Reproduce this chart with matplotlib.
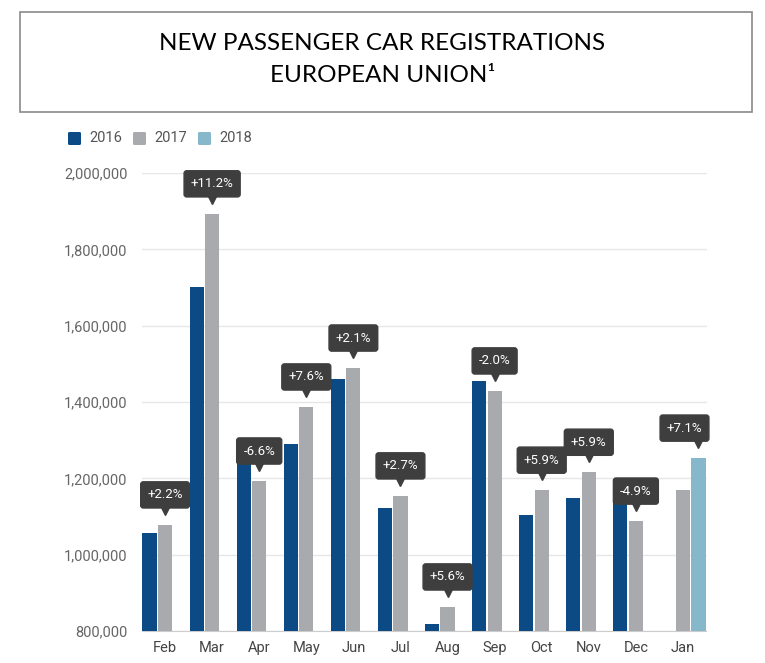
import matplotlib.pyplot as plt
import matplotlib.patches as patches
import matplotlib.transforms as mtransforms
import numpy as np

months = ["Feb", "Mar", "Apr", "May", "Jun", "Jul", "Aug", "Sep", "Oct", "Nov", "Dec", "Jan"]
reg_2016 = [1057000, 1701000, 1277000, 1290000, 1460000, 1122000, 818000, 1455000, 1104000, 1148000, 1138000, None]
reg_2017 = [1078000, 1893000, 1193000, 1387000, 1489000, 1154000, 863000, 1429000, 1169000, 1216000, 1088000, 1169000]
reg_2018 = [None, None, None, None, None, None, None, None, None, None, None, 1253000]
changes = ["+2.2%", "+11.2%", "-6.6%", "+7.6%", "+2.1%", "+2.7%", "+5.6%", "-2.0%", "+5.9%", "+5.9%", "-4.9%", "+7.1%"]
yticks = [800000, 1000000, 1200000, 1400000, 1600000, 1800000, 2000000]

C16 = "#0B4A84"
C17 = "#A9AAAD"
C18 = "#86B7CB"
BOX = "#3E3E3E"
FONT = "Roboto"

fig = plt.figure(figsize=(7.65, 6.63), dpi=100)
fig.patch.set_facecolor("white")

# title box
fig.patches.append(patches.Rectangle((20 / 765, 1 - 112 / 663), 732 / 765, 100 / 663,
                                     transform=fig.transFigure, fill=False, ec="#8a8a8a", lw=1.2))
fig.text(0.5, 1 - 43 / 663, "NEW PASSENGER CAR REGISTRATIONS", ha="center", va="center",
         fontsize=17.5, family="Lato", color="black")
fig.text(0.5, 1 - 75 / 663, "EUROPEAN UNION\u00b9", ha="center", va="center",
         fontsize=17.5, family="Lato", color="black")

ax = fig.add_axes([141.5 / 765, 32 / 663, 565 / 765, 458 / 663])
x = np.arange(len(months))
w = 0.3
step = 0.33

for series, off, col in [(reg_2016, -step, C16), (reg_2017, 0, C17), (reg_2018, step, C18)]:
    xs = [xi + off for xi, v in zip(x, series) if v is not None]
    vs = [v for v in series if v is not None]
    ax.bar(xs, [v - 800000 for v in vs], bottom=800000, width=w, color=col, zorder=3)

ax.set_xlim(-0.5, 11.5)
ax.set_ylim(800000, 2000000)
ax.set_yticks(yticks)
ax.set_yticklabels([f"{v:,}" for v in yticks], fontsize=10.5, color="#666666", family=FONT)
ax.set_xticks(x)
ax.set_xticklabels(months, fontsize=10.5, color="#444444", family=FONT)
ax.tick_params(length=0, pad=10)
ax.tick_params(axis="x", pad=7)
ax.grid(axis="y", color="#e6e6e6", lw=1, zorder=0)
for s in ["top", "right", "left"]:
    ax.spines[s].set_visible(False)
ax.spines["bottom"].set_color("#cccccc")

# change labels above the latest year's bar
for i, ch in enumerate(changes):
    if reg_2018[i] is not None:
        top, bx = reg_2018[i], x[i] + step
        shift = -14
    else:
        top, bx = reg_2017[i], x[i]
        shift = 0
    tri = mtransforms.offset_copy(ax.transData, fig, x=0, y=14, units="dots")
    ax.plot([bx], [top], marker="v", ms=6, color=BOX, transform=tri, clip_on=False, zorder=5)
    ax.annotate(ch, xy=(bx, top), xytext=(shift * 0.72, 30 * 0.72), textcoords="offset points",
                ha="center", va="center", fontsize=9.5, color="white", family=FONT,
                bbox=dict(boxstyle="round,pad=0.5,rounding_size=0.2", fc=BOX, ec=BOX),
                zorder=6, annotation_clip=False)

# legend
for k, (lab, col) in enumerate([("2016", C16), ("2017", C17), ("2018", C18)]):
    x0 = 68 + k * 65
    fig.patches.append(patches.FancyBboxPatch((x0 / 765, 1 - 145 / 663), 13 / 765, 13 / 663,
                                              boxstyle="round,pad=0,rounding_size=0.002",
                                              transform=fig.transFigure, fc=col, ec="none"))
    fig.text((x0 + 21) / 765, 1 - 138 / 663, lab, ha="left", va="center", fontsize=10.5,
             color="#555555", family=FONT)

plt.savefig("out.png", dpi=100, facecolor="white")
